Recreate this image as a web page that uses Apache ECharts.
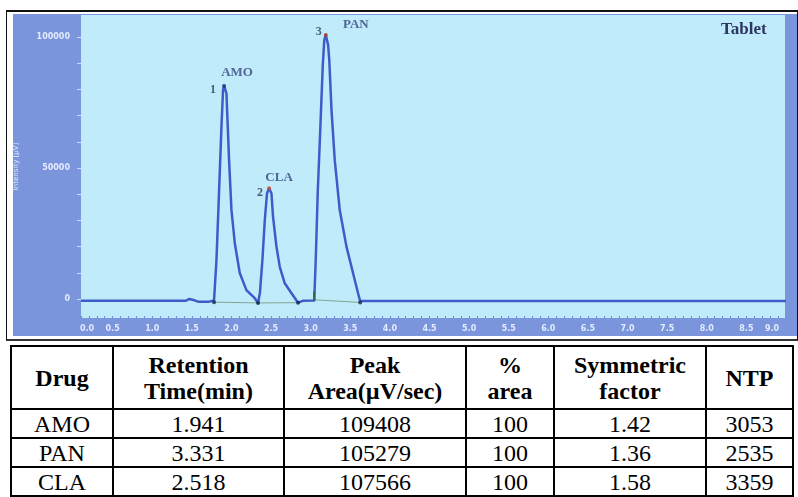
<!DOCTYPE html>
<html><head><meta charset="utf-8">
<script src="https://cdn.jsdelivr.net/npm/echarts@6/dist/echarts.min.js"></script>
<style>
html,body{margin:0;padding:0;background:#fff;width:798px;height:497px;overflow:hidden;}
#frame{position:absolute;left:6px;top:10px;width:790px;height:327px;border:1px solid #111;border-top:2px solid #111;border-bottom:2px solid #333;}
#panel{position:absolute;left:13px;top:14px;width:784px;height:322px;background:#7b95dc;}
#plot{position:absolute;left:81px;top:15px;width:704px;height:303px;background:#c0ebfb;}
#chart{position:absolute;left:0;top:0;width:798px;height:342px;}
#tbl{position:absolute;left:10px;top:345px;border-collapse:collapse;font-family:'Liberation Serif','Times New Roman',serif;font-size:24px;color:#000;table-layout:fixed;}
#tbl td,#tbl th{border:2px solid #000;text-align:center;padding:0;line-height:26px;overflow:hidden;white-space:nowrap;}
#tbl th{font-weight:bold;font-size:24px;}
#tbl tr.h{height:63px;}
#tbl tr.r{height:29px;}
</style></head><body>
<div id="frame"></div>
<div id="panel"></div>
<div id="plot"></div>
<div id="chart"></div>
<table id="tbl"></table>
<script>
// ---- chromatogram data (time in min, intensity in µV) ----
const signalTime = [0.1, 0.4, 1.42, 1.47, 1.52, 1.58, 1.72, 1.78, 1.811, 1.843, 1.874, 1.894, 1.907, 1.937, 1.970, 2.000, 2.042, 2.105, 2.189, 2.294, 2.336, 2.360, 2.391, 2.421, 2.449, 2.475, 2.505, 2.525, 2.568, 2.610, 2.673, 2.758, 2.841, 2.900, 3.045, 3.064, 3.089, 3.121, 3.153, 3.172, 3.191, 3.220, 3.235, 3.263, 3.304, 3.367, 3.452, 3.515, 3.598, 3.625, 4.5, 9.0];
const signalIntensity = [-700, -700, -700, 0, -400, -1000, -1000, -600, 14900, 40500, 65800, 79800, 81300, 78500, 53000, 34000, 21400, 9900, 3400, 300, -1500, 2500, 14900, 30150, 40350, 42250, 40350, 31400, 20000, 12300, 6000, 2200, -1400, -700, -600, 14900, 40460, 64500, 89300, 98900, 100800, 97000, 91200, 72100, 53000, 34000, 20000, 12300, 2200, -800, -800, -800];

// integration baseline segments (null = break)
const baseTime = [1.78, 2.336, 2.841, null, 3.045, 3.625];
const baseValue = [-1200, -1500, -1400, null, -300, -1300];
// integration start/end points
const integTime = [1.78, 2.336, 2.841, 3.625];
const integValue = [-1200, -1500, -1400, -1300];
const panStartTime = [3.045];
const panStartValue = [-300];

// peaks
const peakNames = ['AMO', 'CLA', 'PAN'];
const peakNumbers = ['1', '2', '3'];
const peakTimes = [1.907, 2.475, 3.191];
const peakHeights = [81300, 42250, 100800];

// axis ticks
const xTickLabels = [0, 0.5, 1, 1.5, 2, 2.5, 3, 3.5, 4, 4.5, 5, 5.5, 6, 6.5, 7, 7.5, 8, 8.5, 9];
const yTickLabels = [0, 50000, 100000];
const yMinorTicks = [0, 10000, 20000, 30000, 40000, 50000, 60000, 70000, 80000, 90000, 100000];

// table data
const tableHeaders = ['Drug', 'Retention<br>Time(min)', 'Peak<br>Area(µV/sec)', '%<br>area', 'Symmetric<br>factor', 'NTP'];
const drugs = ['AMO', 'PAN', 'CLA'];
const retentionTimes = ['1.941', '3.331', '2.518'];
const peakAreas = ['109408', '105279', '107566'];
const percentArea = ['100', '100', '100'];
const symmetricFactors = ['1.42', '1.36', '1.58'];
const ntp = ['3053', '2535', '3359'];

// ---- styling (kept separate from data) ----
const nameOffsets = [[13, -13], [10, -11], [30, -10]];
const numOffsets = [[-11, 4], [-9, 5], [-7, -3]];
const apexColors = ['#1c2f86', '#d0502a', '#b03a22'];
const colWidths = [102, 171, 182, 88, 152, 87];
const labelColor = '#e3ebff';

// x minor ticks every 0.1 (from plot left edge)
const xMinorTicks = [];
for (let i = 1; i <= 90; i++) xMinorTicks.push(+(i / 10).toFixed(1));

// ---- table ----
(function () {
  const tbl = document.getElementById('tbl');
  let html = '<colgroup>' + colWidths.map(w => '<col style="width:' + w + 'px">').join('') + '</colgroup>';
  html += '<tr class="h">' + tableHeaders.map(h => '<th>' + h + '</th>').join('') + '</tr>';
  for (let i = 0; i < drugs.length; i++) {
    html += '<tr class="r"><td>' + drugs[i] + '</td><td>' + retentionTimes[i] + '</td><td>' + peakAreas[i] +
      '</td><td>' + percentArea[i] + '</td><td>' + symmetricFactors[i] + '</td><td>' + ntp[i] + '</td></tr>';
  }
  tbl.innerHTML = html;
})();

// ---- chart ----
const chart = echarts.init(document.getElementById('chart'), null, { renderer: 'canvas' });
const signal = signalTime.map((t, i) => [t, signalIntensity[i]]);
const baseline = baseTime.map((t, i) => t === null ? ['-', '-'] : [t, baseValue[i]]);
const integ = integTime.map((t, i) => [t, integValue[i]]);
const panStart = panStartTime.map((t, i) => [t, panStartValue[i]]);
const labelFont = '"Liberation Serif", "DejaVu Serif", serif';

const option = {
  backgroundColor: 'transparent',
  animation: false,
  graphic: [
    { type: 'text', left: 721, top: 21, style: { text: 'Tablet', font: 'bold 17px "Liberation Serif", "DejaVu Serif", serif', fill: '#2c3660' } }
  ],
  grid: { left: 73, right: 12, top: 15, bottom: 24, show: false, outerBoundsMode: 'none' },
  xAxis: {
    type: 'value', min: 0, max: 9.0,
    axisLine: { show: false, onZero: false },
    splitLine: { show: false },
    axisTick: { show: true, inside: true, length: 2, customValues: xMinorTicks, lineStyle: { color: '#6f88d8', width: 1 } },
    axisLabel: {
      customValues: xTickLabels, margin: 7, fontSize: 8, fontWeight: 'bold', color: labelColor, fontFamily: 'DejaVu Sans',
      formatter: function (v) {
        const s = Number(v).toFixed(1);
        if (v === xTickLabels[0]) return '{a|' + s + '}';
        if (v === xTickLabels[xTickLabels.length - 1]) return '{b|' + s + '}';
        return s;
      },
      rich: {
        a: { padding: [0, 0, 0, 28], fontSize: 8, fontWeight: 'bold', color: labelColor, fontFamily: 'DejaVu Sans' },
        b: { padding: [0, 28, 0, 0], fontSize: 8, fontWeight: 'bold', color: labelColor, fontFamily: 'DejaVu Sans' }
      }
    }
  },
  yAxis: {
    type: 'value', min: -7250, max: 108400, offset: -8,
    name: 'Intensity [µV]', nameLocation: 'middle', nameGap: 61, nameRotate: 90,
    nameTextStyle: { fontSize: 7, color: labelColor, fontFamily: 'DejaVu Sans' },
    axisLine: { show: false },
    splitLine: { show: false },
    axisTick: { show: true, length: 4, customValues: yMinorTicks, lineStyle: { color: '#c8dcff', width: 1 } },
    axisLabel: { customValues: yTickLabels, margin: 11, fontSize: 8, fontWeight: 'bold', color: labelColor, fontFamily: 'DejaVu Sans',
      formatter: v => String(v) }
  },
  series: [
    {
      name: 'baseline', type: 'line', data: baseline, showSymbol: false, connectNulls: false, silent: true,
      lineStyle: { color: '#7fa593', width: 1 }, z: 2
    },
    {
      name: 'signal', type: 'line', data: signal, showSymbol: false, smooth: false, silent: true,
      lineStyle: { color: '#3d5cca', width: 2.5, join: 'round' }, z: 3
    },
    {
      name: 'integration', type: 'scatter', data: integ, symbolSize: 4, silent: true,
      itemStyle: { color: '#18284a' }, z: 4
    },
    {
      name: 'panStart', type: 'scatter', data: panStart, symbol: 'rect', symbolSize: [2, 9], symbolOffset: [0, -4], silent: true,
      itemStyle: { color: '#1f6b2a' }, z: 4
    },
    {
      name: 'peakNames', type: 'scatter', silent: true, z: 5,
      data: peakTimes.map((t, i) => ({
        value: [t, peakHeights[i]], name: peakNames[i],
        itemStyle: { color: apexColors[i] },
        label: { offset: nameOffsets[i] }
      })),
      symbolSize: 4,
      label: { show: true, position: 'inside', formatter: '{b}', fontFamily: labelFont, fontSize: 13, fontWeight: 'bold', color: '#33447a' }
    },
    {
      name: 'peakNumbers', type: 'scatter', silent: true, z: 5,
      data: peakTimes.map((t, i) => ({
        value: [t, peakHeights[i]], name: peakNumbers[i],
        label: { offset: numOffsets[i] }
      })),
      symbolSize: 1, itemStyle: { color: 'transparent' },
      label: { show: true, position: 'inside', formatter: '{b}', fontFamily: labelFont, fontSize: 12, fontWeight: 'bold', color: '#2a3560' }
    }
  ]
};
chart.setOption(option);
</script></body></html>
